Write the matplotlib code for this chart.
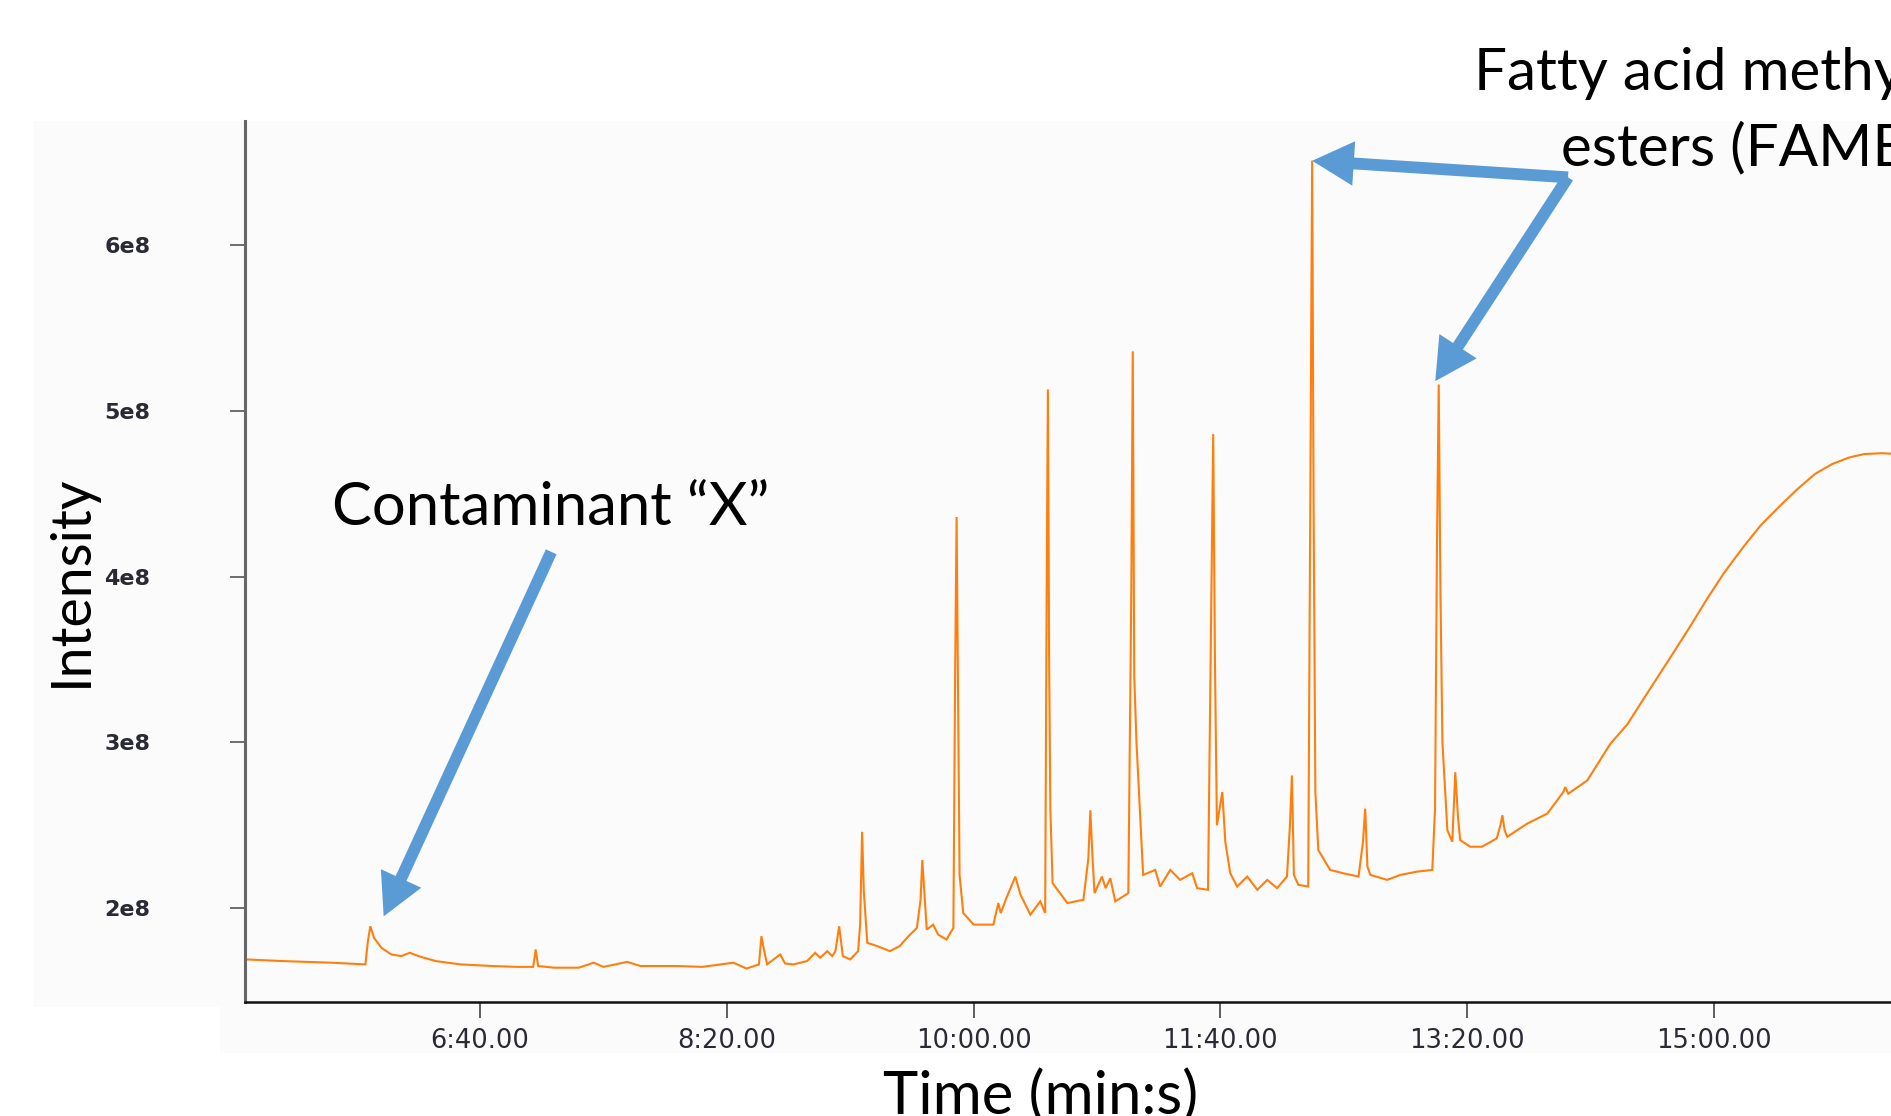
import matplotlib
matplotlib.use("Agg")
import matplotlib.pyplot as plt
from matplotlib.patches import Rectangle
import numpy as np

# chromatogram trace: time in s, intensity in 1e8 counts
time_s = [305.0, 320, 340, 353.5, 354.5, 355.5, 357, 360, 364, 368, 371.5, 375, 382, 392,
          405, 415, 421.5, 422.5, 423.5, 430, 440, 446, 450, 459.6, 465, 480, 490,
          502.6, 508, 513, 514, 515, 516.3, 521.6, 523.6, 527, 532.5, 535.8, 537.8, 540.7,
          542.7, 544, 545.5, 547, 550, 553.2, 554, 554.8, 555.5, 556.9, 561, 566, 570,
          573.6, 577, 578.5, 579.2, 580, 581, 583.6, 585.6, 589, 591.8, 592.5, 593.1, 593.7,
          594.3, 595.8, 600, 608, 610, 611, 613, 616.9, 619, 623, 627, 629, 629.6, 630.1,
          630.6, 631.1, 632, 638, 644.5, 646.5, 647.3, 648.2, 649, 652, 653.5, 655.4, 657.4,
          662.7, 663.9, 664.5, 665.1, 666, 668.7, 673.6, 675.6, 679.7, 683.7, 688.6, 690.6,
          695, 696.3, 697.1, 697.8, 698.6, 700.8, 702, 704, 706.8, 710.9, 715, 719, 723,
          727, 728.2, 729, 729.8, 731.6, 735.6, 736.6, 737.2, 737.8, 738.5, 739.7, 744.5,
          749.8, 756, 757.8, 758.7, 759.6, 760.8, 767.6, 773, 779.8, 785.9, 787, 787.8,
          788.5, 789.2, 790, 792, 794, 795.2, 796.3, 797.2, 801.3, 806, 812, 813.5, 814.3,
          815.2, 816.3, 824.4, 832.5, 839, 839.8, 841, 848.7, 858, 865, 871, 877.5, 884,
          890, 897, 904, 912, 919, 927, 934, 941, 948, 955, 961, 968, 975]
intensity_e8 = [1.69, 1.68, 1.67, 1.66, 1.80, 1.89, 1.82, 1.76, 1.72, 1.71, 1.73, 1.71, 1.68, 1.66,
                1.65, 1.645, 1.645, 1.75, 1.65, 1.64, 1.64, 1.67, 1.645, 1.675, 1.65, 1.65, 1.645,
                1.67, 1.635, 1.66, 1.83, 1.75, 1.66, 1.72, 1.665, 1.66, 1.68, 1.73, 1.70, 1.74,
                1.71, 1.74, 1.89, 1.71, 1.69, 1.74, 1.90, 2.46, 2.10, 1.79, 1.77, 1.74, 1.77,
                1.83, 1.88, 2.05, 2.29, 2.10, 1.87, 1.90, 1.84, 1.81, 1.88, 3.40, 4.36, 3.30,
                2.20, 1.97, 1.90, 1.90, 2.03, 1.97, 2.05, 2.19, 2.08, 1.96, 2.04, 1.97, 3.90, 5.13,
                3.50, 2.60, 2.15, 2.03, 2.05, 2.30, 2.59, 2.30, 2.09, 2.19, 2.12, 2.18, 2.04,
                2.09, 3.90, 5.36, 3.40, 3.00, 2.20, 2.23, 2.13, 2.23, 2.17, 2.21, 2.12,
                2.11, 3.80, 4.86, 3.50, 2.50, 2.70, 2.40, 2.21, 2.13, 2.19, 2.11, 2.17, 2.12,
                2.19, 2.50, 2.80, 2.20, 2.14, 2.13, 4.80, 6.51, 4.40, 2.70, 2.35, 2.23,
                2.21, 2.19, 2.40, 2.60, 2.25, 2.20, 2.17, 2.20, 2.22, 2.23, 2.60, 4.20,
                5.16, 3.90, 3.00, 2.47, 2.40, 2.82, 2.55, 2.41, 2.37, 2.37, 2.42, 2.50, 2.56,
                2.47, 2.43, 2.51, 2.57, 2.70, 2.73, 2.69, 2.77, 2.99, 3.11, 3.25, 3.40, 3.55,
                3.69, 3.86, 4.02, 4.18, 4.31, 4.43, 4.53, 4.62, 4.68, 4.72, 4.74, 4.745, 4.74]

x_ticks = [400, 500, 600, 700, 800, 900]
x_tick_labels = ["6:40.00", "8:20.00", "10:00.00", "11:40.00", "13:20.00", "15:00.00"]
y_ticks_e8 = [2, 3, 4, 5, 6]
y_tick_labels = ["2e8", "3e8", "4e8", "5e8", "6e8"]

# arrow anchors (time s, intensity 1e8)
contam_tip = (360.9, 1.95)
contam_tail = (428.8, 4.15)
fame_corner = (840.9, 6.41)
fame_tips = [(737.2, 6.51), (787.1, 5.18)]

orange = "#ff7f0e"
blue = "#5b9bd5"
label_font = ["Lato", "DejaVu Sans"]

fig = plt.figure(figsize=(18.91, 11.16), dpi=100)
fig.patch.set_facecolor("white")

# faint grey panel of the pasted screenshot, kept behind the axes
fig.patches.append(Rectangle((34 / 1891, 109 / 1116), 1.0, 886 / 1116, transform=fig.transFigure,
                             facecolor="#fbfbfb", edgecolor="none", zorder=-10))
fig.patches.append(Rectangle((220 / 1891, 63 / 1116), 1.0, 51 / 1116, transform=fig.transFigure,
                             facecolor="#fbfbfb", edgecolor="none", zorder=-10))

ax = fig.add_axes([245 / 1891, 114 / 1116, 1646 / 1891, 881 / 1116])
ax.set_facecolor("none")

y = np.array(intensity_e8) * 1e8
ax.plot(time_s, y, color=orange, lw=1.5, solid_joinstyle="miter")

ax.set_xlim(304.7, 971.8)
ax.set_ylim(1.433e8, 6.75e8)

ax.set_xticks(x_ticks)
ax.set_xticklabels(x_tick_labels)
ax.set_yticks(np.array(y_ticks_e8) * 1e8)
ax.set_yticklabels(y_tick_labels)

ax.tick_params(axis="x", length=11.5, width=1.2, color="#444444", pad=7,
               labelsize=18.5, labelcolor="#2a2a35")
ax.tick_params(axis="y", length=11, width=1.2, color="#555555", pad=57,
               labelsize=16, labelcolor="#2a2a35")
for lab in ax.get_yticklabels():
    lab.set_fontweight("bold")

for side in ("top", "right"):
    ax.spines[side].set_visible(False)
ax.spines["left"].set_color("#666666")
ax.spines["left"].set_linewidth(2.2)
ax.spines["bottom"].set_color("#111111")
ax.spines["bottom"].set_linewidth(1.8)

# axis titles
fig.text(46 / 1891, 1 - 581 / 1116, "Intensity", rotation=90, ha="left", va="center",
         fontsize=40, family=label_font)
fig.text(1041 / 1891, 1 - 1114 / 1116, "Time (min:s)", ha="center", va="baseline",
         fontsize=43, family=label_font)

# annotations
fig.text(332 / 1891, 1 - 525 / 1116, "Contaminant \u201cX\u201d", ha="left", va="baseline",
         fontsize=43, family=label_font)
fig.text(1474 / 1891, 1 - 90 / 1116, "Fatty acid methyl", ha="left", va="baseline",
         fontsize=42, family=label_font)
fig.text(1561 / 1891, 1 - 165 / 1116, "esters (FAMEs)", ha="left", va="baseline",
         fontsize=42, family=label_font)

arrow_style = "simple,head_length=30,head_width=32,tail_width=8.5"


def arrow(tail, tip):
    ax.annotate("", xy=(tip[0], tip[1] * 1e8), xytext=(tail[0], tail[1] * 1e8),
                arrowprops=dict(arrowstyle=arrow_style, mutation_scale=1, color=blue,
                                shrinkA=0, shrinkB=0, lw=0),
                annotation_clip=False)


arrow(contam_tail, contam_tip)
for tip in fame_tips:
    arrow(fame_corner, tip)

fig.savefig("out.png", dpi=100)
